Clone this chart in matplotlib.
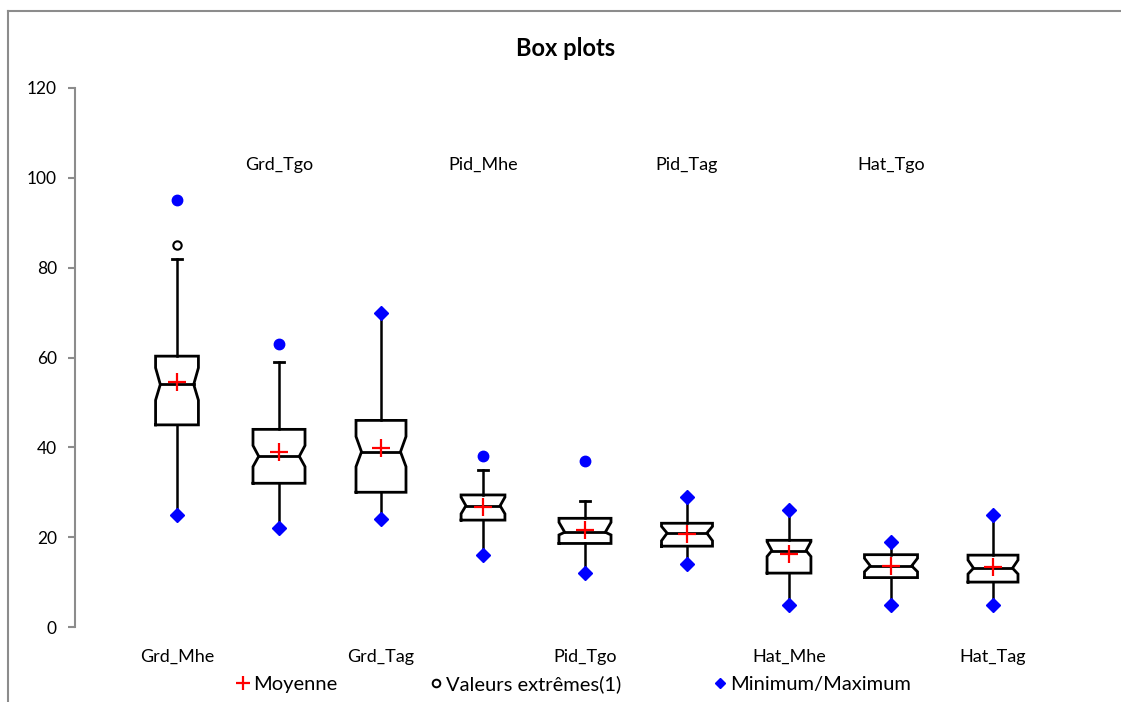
import matplotlib
matplotlib.use("Agg")
import matplotlib.pyplot as plt
from matplotlib.lines import Line2D
import matplotlib.transforms as mtransforms

# ---------------- data ----------------
categories = ["Grd_Mhe", "Grd_Tgo", "Grd_Tag", "Pid_Mhe", "Pid_Tgo",
              "Pid_Tag", "Hat_Mhe", "Hat_Tgo", "Hat_Tag"]
q1 = [45.0, 32.0, 30.0, 23.8, 18.6, 18.0, 12.0, 11.0, 10.0]
median = [54.0, 38.0, 39.0, 27.0, 21.1, 20.9, 17.0, 13.6, 13.1]
q3 = [60.3, 44.0, 46.0, 29.4, 24.2, 23.1, 19.3, 16.1, 16.0]
notch_low = [50.5, 35.7, 35.7, 25.2, 20.5, 19.2, 15.7, 12.3, 11.8]
notch_high = [57.7, 40.4, 42.4, 28.9, 23.3, 22.4, 19.0, 15.3, 14.9]
whisker_low = [25.0, 22.0, 24.0, 16.0, 12.0, 14.0, 5.0, 5.0, 5.0]
whisker_high = [82.0, 59.0, 70.0, 35.0, 28.0, 29.0, 26.0, 19.0, 25.0]
minimum = [25.0, 22.0, 24.0, 16.0, 12.0, 14.0, 5.0, 5.0, 5.0]
maximum = [95.0, 63.0, 70.0, 38.0, 37.0, 29.0, 26.0, 19.0, 25.0]
mean = [54.5, 39.0, 39.8, 26.7, 21.5, 20.8, 16.3, 13.6, 13.3]
outlier_cat = ["Grd_Mhe"]
outlier_val = [85.0]
yticks = [0, 20, 40, 60, 80, 100, 120]

# ---------------- style ----------------
box_widths = [0.42, 0.51, 0.49, 0.43, 0.51, 0.50, 0.43, 0.52, 0.49]
FONT = "Lato"
plt.rcParams["font.family"] = [FONT, "DejaVu Sans"]
W, H, DPI = 1121, 702, 100
fig = plt.figure(figsize=(W / DPI, H / DPI), dpi=DPI)
fig.patch.set_facecolor("white")

ax = fig.add_axes([75 / W, 1 - 627 / H, (1095 - 75) / W, (627 - 88) / H])
ax.set_xlim(0, len(categories) + 1)
ax.set_ylim(0, 120)
for s in ["top", "right", "bottom"]:
    ax.spines[s].set_visible(False)
ax.spines["left"].set_color("#8c8c8c")
ax.spines["left"].set_linewidth(1.5)
ax.set_xticks([])
ax.set_yticks(yticks)
ax.tick_params(axis="y", direction="out", length=5, width=1.5, color="#8c8c8c",
               pad=8, labelsize=12.5, labelcolor="black")

LW = 2.0
positions = list(range(1, len(categories) + 1))
for i, x in enumerate(positions):
    hw = box_widths[i] / 2
    nd = box_widths[i] * 0.11
    xl, xr = x - hw, x + hw
    nl, nr = xl + nd, xr - nd
    bx = [xl, xr, xr, nr, xr, xr, xl, xl, nl, xl, xl]
    by = [q1[i], q1[i], notch_low[i], median[i], notch_high[i], q3[i],
          q3[i], notch_high[i], median[i], notch_low[i], q1[i]]
    ax.plot(bx, by, color="black", lw=LW, solid_joinstyle="miter", zorder=3)
    ax.plot([nl, nr], [median[i], median[i]], color="black", lw=LW, zorder=3)
    # whiskers
    ax.plot([x, x], [q3[i], whisker_high[i]], color="black", lw=LW * 0.9, zorder=2)
    ax.plot([x, x], [q1[i], whisker_low[i]], color="black", lw=LW * 0.9, zorder=2)
    cw = 0.05
    if maximum[i] > whisker_high[i]:
        ax.plot([x - cw, x + cw], [whisker_high[i]] * 2, color="black", lw=LW, zorder=2)
        ax.plot([x], [maximum[i]], marker="o", ms=7.5, color="#0000ff",
                mec="#0000ff", ls="none", zorder=5)
    else:
        ax.plot([x], [maximum[i]], marker="D", ms=6.8, color="#0000ff",
                mec="#0000ff", ls="none", zorder=5)
    if minimum[i] < whisker_low[i]:
        ax.plot([x - cw, x + cw], [whisker_low[i]] * 2, color="black", lw=LW, zorder=2)
        ax.plot([x], [minimum[i]], marker="o", ms=7.5, color="#0000ff",
                ls="none", zorder=5)
    else:
        ax.plot([x], [minimum[i]], marker="D", ms=6.8, color="#0000ff",
                mec="#0000ff", ls="none", zorder=5)
    # mean
    ax.plot([x], [mean[i]], marker="+", ms=13, mew=1.6, color="red",
            ls="none", zorder=6)

# outliers
for c, v in zip(outlier_cat, outlier_val):
    x = positions[categories.index(c)]
    ax.plot([x], [v], marker="o", ms=6, mfc="white", mec="black", mew=1.5,
            ls="none", zorder=5)

# category labels, alternating bottom / top
trans = mtransforms.blended_transform_factory(ax.transData, ax.transAxes)
for i, (x, c) in enumerate(zip(positions, categories)):
    if i % 2 == 0:
        ax.text(x, -30 / 539, c, transform=trans, ha="center", va="center",
                fontsize=13)
    else:
        ax.text(x, (627 - 165) / 539, c, transform=trans, ha="center",
                va="center", fontsize=13)

# title
fig.text(566 / W, 1 - 48 / H, "Box plots", ha="center", va="center",
         fontsize=17, fontweight="bold")

# legend
handles = [
    Line2D([], [], marker="+", ms=10, mew=1.6, color="red", ls="none"),
    Line2D([], [], marker="o", ms=5.5, mfc="white", mec="black", mew=1.4, ls="none"),
    Line2D([], [], marker="D", ms=5, color="#0000ff", ls="none"),
]
labels = ["Moyenne", "Valeurs extrêmes(1)", "Minimum/Maximum"]
fig.legend(handles, labels, loc="center", bbox_to_anchor=(574 / W, 1 - 684 / H),
           ncol=3, frameon=False, fontsize=14.5, handlelength=0.55,
           handletextpad=0.25, columnspacing=4.6, borderaxespad=0, borderpad=0)

# figure border (top & left visible)
fig.add_artist(Line2D([8 / W, 1.02], [1 - 11 / H, 1 - 11 / H],
                      transform=fig.transFigure, color="#8c8c8c", lw=1.5))
fig.add_artist(Line2D([8 / W, 8 / W], [-0.02, 1 - 11 / H],
                      transform=fig.transFigure, color="#8c8c8c", lw=1.5))

fig.savefig("out.png", dpi=DPI)
